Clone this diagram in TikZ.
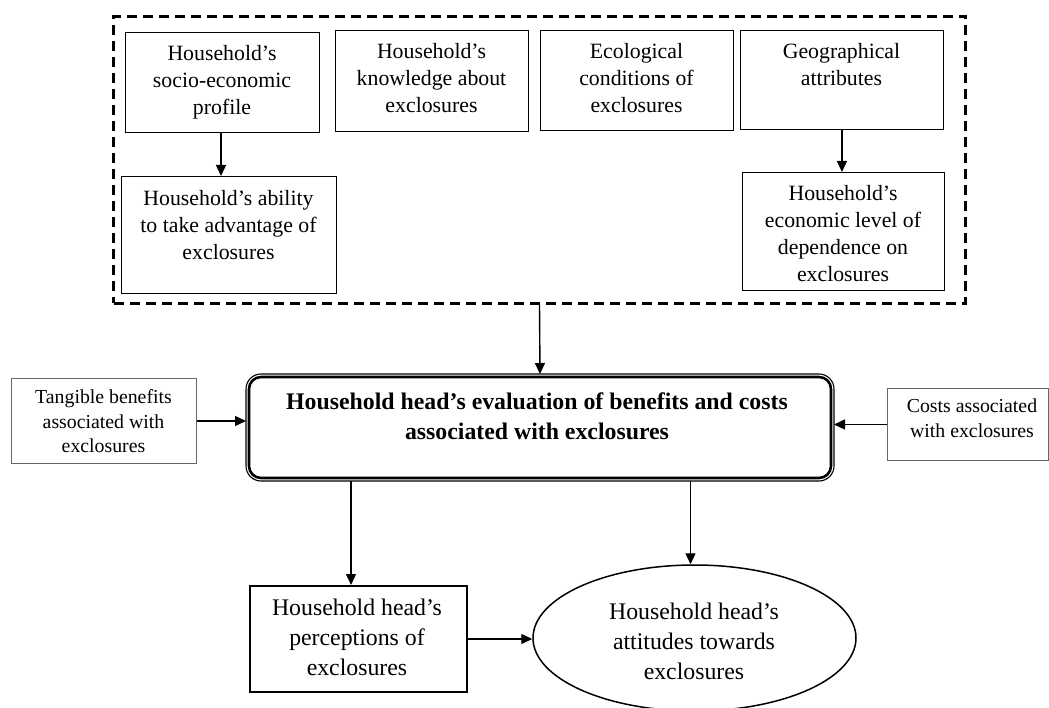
\documentclass[tikz,border=0pt]{standalone}
\usepackage{fontspec}
\setmainfont{Liberation Serif}
\usetikzlibrary{arrows.meta,shapes.geometric,calc}
\begin{document}
\begin{tikzpicture}[x=1pt,y=-1pt,
  box/.style={draw, line width=0.9pt, inner sep=0pt, anchor=north west},
  greybox/.style={box, draw=black!60, line width=1pt},
  txt/.style={align=center, inner sep=0pt, anchor=north},
  topfont/.style={font=\fontsize{21.8}{27}\selectfont},
  sidefont/.style={font=\fontsize{19.8}{24.6}\selectfont},
  bigfont/.style={font=\fontsize{23.8}{29.7}\selectfont},
  boldfont/.style={font=\fontsize{23.8}{30}\selectfont\bfseries},
  arr/.style={line width=1.4pt, -{Triangle[length=11pt,width=10pt]}},
]
\useasboundingbox (0,0) rectangle (1049,708);

% dashed container
\node[draw, line width=3pt, dash pattern=on 10pt off 6pt, inner sep=0pt,
      minimum width=852pt, minimum height=287pt, anchor=north west] (dash) at (112,15) {};

% top row
\node[box, minimum width=194pt, minimum height=100pt] (b1) at (125,32) {};
\node[txt, topfont] (b1t) at (222,45) {Household’s\\socio-economic\\profile};
\node[box, minimum width=193pt, minimum height=101pt] (b2) at (335,30) {};
\node[txt, topfont] (b2t) at (431.5,43) {Household’s\\knowledge about\\exclosures};
\node[box, minimum width=193pt, minimum height=100pt] (b3) at (540,30) {};
\node[txt, topfont] (b3t) at (636.5,43) {Ecological\\conditions of\\exclosures};
\node[box, minimum width=203pt, minimum height=99pt] (b4) at (740,30) {};
\node[txt, topfont] (b4t) at (841.5,43) {Geographical\\attributes};

% second row
\node[box, minimum width=215pt, minimum height=117pt] (b5) at (121,176) {};
\node[txt, topfont] (b5t) at (228.5,190) {Household’s ability\\to take advantage of\\exclosures};
\node[box, minimum width=202pt, minimum height=118pt] (b6) at (742,172) {};
\node[txt, topfont] (b6t) at (843,185) {Household’s\\economic level of\\dependence on\\exclosures};

% central evaluation box: thick inner line, thin outer line
\node[draw, line width=2.6pt, rounded corners=12pt, inner sep=0pt, outer sep=3pt,
      minimum width=582pt, minimum height=101pt, anchor=north west] (cen) at (246,374) {};
\draw[line width=1.1pt, rounded corners=15pt] (cen.north west) rectangle (cen.south east);
\node[txt, boldfont] (cent) at (537,393) {Household head’s evaluation of benefits and costs\\associated with exclosures};

% side boxes
\node[greybox, minimum width=185pt, minimum height=85pt] (tang) at (11,378) {};
\node[txt, sidefont] (tangt) at (103.5,389.5) {Tangible benefits\\associated with\\exclosures};
\node[greybox, minimum width=161pt, minimum height=72pt] (cost) at (887,388) {};
\node[txt, sidefont] (costt) at (972,399) {Costs associated\\with exclosures};

% bottom
\node[box, line width=2pt, minimum width=217pt, minimum height=106pt] (perc) at (249,585) {};
\node[txt, bigfont] (perct) at (357,599) {Household head’s\\perceptions of\\exclosures};
\node[draw, ellipse, line width=1.5pt, inner sep=0pt,
      minimum width=323pt, minimum height=146pt] (ell) at (694.5,638) {};
\node[txt, bigfont] (ellt) at (694,603) {Household head’s\\attitudes towards\\exclosures};

\coordinate (p1) at ([xshift=-7.5pt]perc.north);
\coordinate (e1) at ([xshift=-4pt]ell.north);

% connectors
\draw[arr] (b1.south -| 221,0) -- (b5.north -| 221,0);
\draw[arr] (b4.south) -- (b4.south |- b6.north);
\draw[arr] (dash.south) -- (cen.north);
\draw[arr] (tang.east) -- (tang.east -| cen.west);
\draw[arr] (cost.west) -- (cost.west -| cen.east);
\draw[arr] (cen.south -| p1) -- (p1);
\draw[arr] (cen.south -| e1) -- (e1);
\draw[arr] (perc.east) -- (perc.east -| ell.west);
\end{tikzpicture}
\end{document}
